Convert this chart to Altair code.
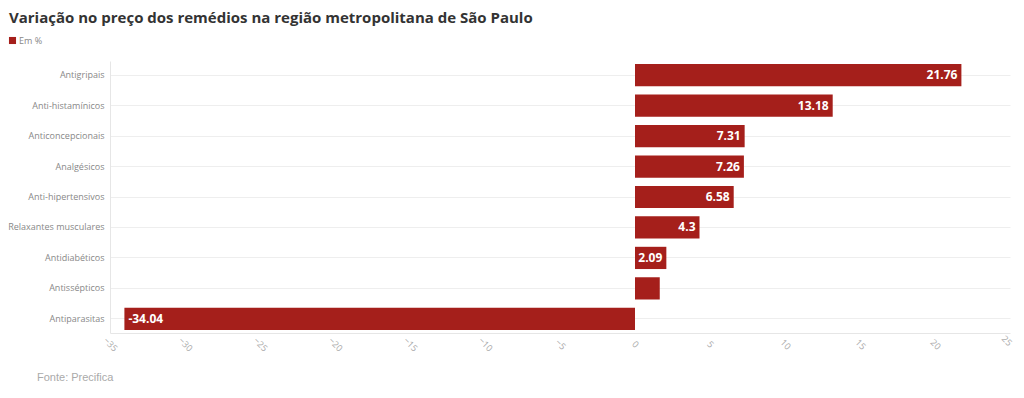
import altair as alt
import pandas as pd

categories = ["Antigripais", "Anti-histamínicos", "Anticoncepcionais", "Analgésicos",
              "Anti-hipertensivos", "Relaxantes musculares", "Antidiabéticos",
              "Antissépticos", "Antiparasitas"]
values = [21.76, 13.18, 7.31, 7.26, 6.58, 4.3, 2.09, 1.65, -34.04]
labels = ["21.76", "13.18", "7.31", "7.26", "6.58", "4.3", "2.09", "", "-34.04"]
series_name = "Em %"
x_ticks = [-35, -30, -25, -20, -15, -10, -5, 0, 5, 10, 15, 20, 25]
source_text = "Fonte: Precifica"
title_text = "Variação no preço dos remédios na região metropolitana de São Paulo"

df = pd.DataFrame({"cat": categories, "value": values, "label": labels, "series": series_name})

RED = "#a51f1b"
FONT = "Open Sans"

x_enc = alt.X("value:Q", scale=alt.Scale(domain=[-35, 25], nice=False, zero=False),
              axis=alt.Axis(values=x_ticks, title=None, grid=False, ticks=False,
                            labelAngle=45,
                            labelAlign={"condition": {"test": "datum.value == 25", "value": "right"},
                                        "value": "center"},
                            labelBaseline="middle",
                            labelPadding=11, labelColor="#aaaaaa", labelFontSize=9,
                            labelFont=FONT, domainColor="#e6e6e6"))
y_enc = alt.Y("cat:N", sort=categories, scale=alt.Scale(paddingInner=0.27, paddingOuter=0.1),
              axis=alt.Axis(title=None, ticks=False, labelPadding=6, labelColor="#888888",
                            labelFontSize=9, labelFont=FONT, grid=True, gridColor="#eeeeee",
                            domainColor="#e6e6e6"))

bars = alt.Chart(df).mark_bar(cornerRadius=0).encode(
    x=x_enc, y=y_enc,
    color=alt.Color("series:N", scale=alt.Scale(range=[RED]),
                    legend=alt.Legend(title=None, orient="none", legendX=-102, legendY=-25,
                                      symbolType="square", symbolSize=50, symbolStrokeWidth=0,
                                      labelFontSize=9, labelColor="#888888", labelFont=FONT,
                                      labelOffset=2))
)

pos_text = alt.Chart(df).transform_filter("datum.value > 0").mark_text(
    align="right", baseline="middle", dx=-4, color="white", fontWeight="bold",
    fontSize=12, font=FONT
).encode(x="value:Q", y=alt.Y("cat:N", sort=categories), text="label:N")

neg_text = alt.Chart(df).transform_filter("datum.value < 0").mark_text(
    align="left", baseline="middle", dx=4, color="white", fontWeight="bold",
    fontSize=12, font=FONT
).encode(x="value:Q", y=alt.Y("cat:N", sort=categories), text="label:N")

src = alt.Chart(pd.DataFrame({"t": [source_text]})).mark_text(
    align="left", baseline="middle", fontSize=11, color="#aaaaaa", font="Liberation Sans"
).encode(x=alt.value(-73), y=alt.value(317), text="t:N")

ttl = alt.Chart(pd.DataFrame({"t": [title_text]})).mark_text(
    align="left", baseline="middle", fontSize=15, fontWeight="bold", color="#333333", font=FONT
).encode(x=alt.value(-101), y=alt.value(-43), text="t:N")

chart = alt.layer(bars, pos_text, neg_text, src, ttl).properties(
    width=900, height=272,
    padding={"left": 102, "top": 53, "right": 6, "bottom": 57},
    autosize=alt.AutoSizeParams(type="none"),
).configure_view(stroke=None)

chart.save("out.html", embed_options={"renderer": "svg", "actions": False})
